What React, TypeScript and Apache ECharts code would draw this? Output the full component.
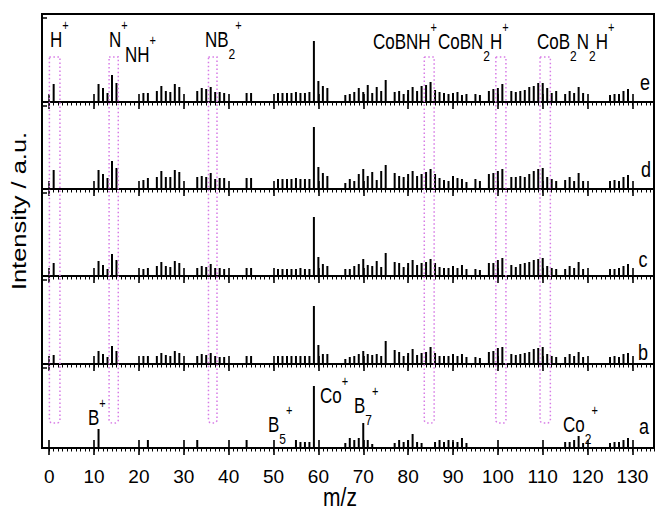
import React, { useEffect, useRef } from "react";
import * as echarts from "echarts";

// ---------- data ----------
const panelNames = ["e", "d", "c", "b", "a"];

// m/z positions of peaks shared by spectra b–e
const mzBE = [
  1,
  11, 12, 13, 14, 15,
  21, 22,
  24, 25, 26, 27, 28, 29,
  33, 34, 35, 36, 37, 38, 39,
  44, 45,
  51, 52, 53, 54, 55, 56, 57, 58,
  59, 60, 61, 62,
  66, 67, 68, 69, 70, 71, 72, 73, 74, 75,
  77, 78, 79, 80, 81, 82, 83, 84, 85, 86, 87, 88, 89, 90, 91, 92, 93,
  95, 96,
  98, 99, 100, 101,
  103, 104, 105, 106, 107, 108, 109, 110, 111, 112, 113,
  115, 116, 117, 118, 119,
  125, 126, 127, 128, 129,
];

const intensityE = [
  18,
  18, 14, 9, 27, 19,
  9, 9,
  11, 16, 11, 10, 18, 15,
  11, 14, 13, 15, 10, 10, 9,
  9, 9,
  9, 9, 9, 9, 10, 9, 9, 10,
  61, 21, 16, 14,
  7, 8, 10, 14, 10, 17, 9, 15, 11, 22,
  10, 11, 8, 12, 15, 11, 16, 17, 20, 12, 10, 9, 8, 9, 10, 7, 8,
  8, 7,
  11, 13, 14, 18,
  11, 10, 11, 12, 15, 16, 19, 19, 14, 9, 11,
  8, 11, 9, 15, 9,
  7, 8, 8, 11, 13,
];

const intensityD = [
  19,
  19, 15, 11, 28, 21,
  9, 11,
  12, 18, 12, 12, 19, 17,
  12, 13, 12, 16, 10, 11, 11,
  11, 11,
  10, 10, 10, 10, 11, 10, 10, 10,
  62, 22, 16, 13,
  6, 10, 8, 15, 20, 13, 17, 9, 18, 24,
  16, 13, 12, 15, 18, 13, 15, 17, 20, 15, 11, 9, 8, 13, 11, 10, 7,
  10, 8,
  15, 16, 18, 20,
  12, 12, 13, 12, 15, 18, 20, 21, 12, 10, 8,
  9, 12, 8, 16, 8,
  8, 9, 8, 12, 14,
];

const intensityC = [
  13,
  15, 11, 7, 22, 16,
  7, 8,
  10, 14, 10, 9, 15, 13,
  8, 10, 9, 12, 8, 8, 7,
  8, 8,
  7, 7, 7, 7, 7, 8, 7, 7,
  59, 19, 12, 10,
  7, 7, 10, 12, 17, 11, 10, 15, 9, 23,
  14, 13, 9, 13, 16, 11, 13, 14, 17, 13, 9, 8, 8, 10, 8, 11, 7,
  7, 6,
  13, 13, 16, 18,
  11, 9, 12, 13, 14, 16, 17, 18, 10, 8, 7,
  7, 10, 8, 14, 7,
  7, 7, 8, 10, 12,
];

const intensityB = [
  9,
  13, 10, 7, 18, 13,
  8, 8,
  8, 11, 9, 8, 13, 11,
  8, 10, 9, 11, 8, 7, 7,
  8, 8,
  8, 8, 8, 8, 8, 8, 8, 8,
  58, 19, 10, 10,
  5, 7, 8, 10, 13, 10, 9, 10, 8, 23,
  14, 12, 8, 11, 15, 9, 11, 12, 17, 11, 8, 8, 8, 10, 8, 10, 7,
  7, 6,
  12, 13, 16, 17,
  10, 9, 10, 11, 12, 15, 16, 17, 10, 8, 7,
  7, 10, 8, 12, 7,
  7, 8, 7, 10, 11,
];

// spectrum a (pure Co/B reference)
const mzA = [
  11, 22, 33, 44, 55, 56, 57, 58, 59,
  66, 67, 68, 69, 70, 71, 72,
  77, 78, 79, 80, 81, 82, 83,
  86, 87, 88, 89, 90, 91, 92, 93,
  115, 116, 117, 118, 119,
  125, 126, 127, 128, 129,
];
const intensityA = [
  19, 8, 8, 8, 8, 6, 6, 6, 62,
  5, 10, 8, 10, 25, 8, 4,
  5, 8, 6, 8, 14, 6, 5,
  6, 8, 6, 8, 6, 6, 10, 5,
  6, 6, 8, 12, 5,
  5, 6, 6, 8, 10,
];

const tickLabels = ["0", "10", "20", "30", "40", "50", "60", "70", "80", "90", "100", "110", "120", "130"];

// ---------- layout ----------
const FONT = "Liberation Sans, Arial, sans-serif";
const PX_PER_UNIT = 612 / 136.4;
const FRAME_LEFT = 42;
const FRAME_RIGHT = 654;
const X_MIN = 0;
const X_MAX = 134.8;
const GRID_LEFT = FRAME_LEFT + 1.6 * PX_PER_UNIT;
const GRID_WIDTH = (X_MAX - X_MIN) * PX_PER_UNIT;
const panelTops = [14, 102, 189, 276, 364];
const panelHeights = [88, 87, 87, 88, 84];
const FRAME_BOTTOM = 448;

const mzToPx = (m: number) => GRID_LEFT + (m - X_MIN) * PX_PER_UNIT;

// highlighted m/z windows (dotted boxes)
const boxRanges: [number, number][] = [
  [0.05, 2.4],
  [13.35, 15.4],
  [35.5, 37.4],
  [83.6, 85.8],
  [99.55, 101.8],
  [109.4, 111.7],
];

type Part = [string, string];
const labels: { x: number; y: number; parts: Part[] }[] = [
  { x: 50, y: 40, parts: [["m", "H"], ["sup", "+"]] },
  { x: 109, y: 40, parts: [["m", "N"], ["sup", "+"]] },
  { x: 125, y: 55, parts: [["m", "NH"], ["sup", "+"]] },
  { x: 205, y: 40, parts: [["m", "NB"], ["sub", "2"], ["sup", "+"]] },
  { x: 373, y: 42, parts: [["m", "CoBNH"], ["sup", "+"]] },
  { x: 438, y: 42, parts: [["m", "CoBN"], ["sub", "2"], ["m", "H"], ["sup", "+"]] },
  { x: 537, y: 42, parts: [["m", "CoB"], ["sub", "2"], ["m", "N"], ["sub", "2"], ["m", "H"], ["sup", "+"]] },
  { x: 88, y: 418, parts: [["m", "B"], ["sup", "+"]] },
  { x: 268, y: 425, parts: [["m", "B"], ["sub", "5"], ["sup", "+"]] },
  { x: 320, y: 396, parts: [["m", "Co"], ["sup", "+"]] },
  { x: 354, y: 406, parts: [["m", "B"], ["sub", "7"], ["sup", "+"]] },
  { x: 563, y: 425, parts: [["m", "Co"], ["sub", "2"], ["sup", "+"]] },
];

const letterPos = [
  [645, 82],
  [646, 169],
  [643, 259],
  [643, 352],
  [644, 426],
];

export default function App() {
  const ref = useRef<HTMLDivElement>(null);

  useEffect(() => {
    document.body.style.margin = "0";
    if (!ref.current) return;
    const chart = echarts.init(ref.current, undefined, { renderer: "svg" });

    const seriesData = [
      mzBE.map((m, i) => [m, intensityE[i]]),
      mzBE.map((m, i) => [m, intensityD[i]]),
      mzBE.map((m, i) => [m, intensityC[i]]),
      mzBE.map((m, i) => [m, intensityB[i]]),
      mzA.map((m, i) => [m, intensityA[i]]),
    ];

    const grids = panelTops.map((t, i) => ({
      left: GRID_LEFT,
      width: GRID_WIDTH,
      top: t,
      height: panelHeights[i],
      show: false,
    }));

    const xAxes: any[] = [];
    panelNames.forEach((_, i) => {
      const base = {
        type: "value",
        gridIndex: i,
        min: X_MIN,
        max: X_MAX,
        position: "bottom",
        splitLine: { show: false },
        axisLine: { show: false, onZero: false },
      };
      // major ticks pointing down + tick labels
      xAxes.push({
        ...base,
        interval: 10,
        axisTick: {
          show: true,
          inside: false,
          length: 7,
          lineStyle: { color: "#000", width: 1.6 },
        },
        axisLabel: {
          show: i === 4,
          fontSize: 19,
          fontFamily: FONT,
          color: "#000",
          margin: 19,
          showMaxLabel: false,
          formatter: (v: number) => {
            const s = String(v);
            return tickLabels.indexOf(s) >= 0 ? s : "";
          },
        },
      });
      // major ticks pointing up into the panel
      xAxes.push({
        ...base,
        interval: 10,
        axisTick: {
          show: true,
          inside: true,
          length: 8,
          lineStyle: { color: "#000", width: 1.6 },
        },
        axisLabel: { show: false },
      });
      // minor ticks every 1 m/z
      xAxes.push({
        ...base,
        interval: 1,
        axisTick: {
          show: true,
          inside: false,
          length: 3.5,
          lineStyle: { color: "#000", width: 1 },
        },
        axisLabel: { show: false },
      });
    });

    const yAxes = panelNames.map((_, i) => ({
      type: "value",
      gridIndex: i,
      min: 0,
      max: panelHeights[i],
      interval: panelHeights[i] - 4,
      position: "left",
      offset: GRID_LEFT - FRAME_LEFT,
      splitLine: { show: false },
      axisLine: { show: false, onZero: false },
      axisLabel: { show: false },
      axisTick: {
        show: true,
        inside: true,
        length: 5,
        lineStyle: { color: "#000", width: 1.5 },
      },
    }));

    const series = seriesData.map((data, i) => ({
      type: "bar",
      name: panelNames[i],
      xAxisIndex: i * 3,
      yAxisIndex: i,
      data,
      barWidth: 2,
      silent: true,
      itemStyle: { color: "#000" },
    }));

    const rich = {
      m: { fontSize: 17, fontFamily: FONT, fill: "#000", lineHeight: 34 },
      sup: { fontSize: 11, fontFamily: FONT, fill: "#000", lineHeight: 16, verticalAlign: "top" },
      sub: { fontSize: 12, fontFamily: FONT, fill: "#000", lineHeight: 10, verticalAlign: "bottom" },
    };

    const graphics: any[] = [];

    // outer frame and panel separators
    graphics.push({
      type: "rect",
      silent: true,
      z: 5,
      shape: { x: FRAME_LEFT, y: panelTops[0], width: FRAME_RIGHT - FRAME_LEFT, height: FRAME_BOTTOM - panelTops[0] },
      style: { fill: "none", stroke: "#000", lineWidth: 2 },
    });
    panelTops.slice(1).forEach((y) => {
      graphics.push({
        type: "line",
        silent: true,
        z: 5,
        shape: { x1: FRAME_LEFT, y1: y, x2: FRAME_RIGHT, y2: y },
        style: { stroke: "#000", lineWidth: 2 },
      });
    });

    const boxTop = 57;
    const boxBottom = 423;
    boxRanges.forEach(([a, b]) => {
      const x0 = mzToPx(a);
      const x1 = mzToPx(b);
      graphics.push({
        type: "rect",
        silent: true,
        z: 10,
        shape: { x: x0, y: boxTop, width: x1 - x0, height: boxBottom - boxTop, r: [0, 0, 3, 3] },
        style: { fill: "none", stroke: "#d77be6", lineWidth: 1.5, lineDash: [1.5, 2.5] },
      });
    });

    labels.forEach((l) => {
      graphics.push({
        type: "text",
        x: l.x,
        y: l.y,
        scaleY: 1.25,
        z: 20,
        style: {
          text: l.parts.map(([s, t]) => `{${s}|${t}}`).join(""),
          rich,
          align: "left",
          verticalAlign: "middle",
        },
      });
    });

    panelNames.forEach((n, i) => {
      graphics.push({
        type: "text",
        x: letterPos[i][0],
        y: letterPos[i][1],
        scaleY: 1.25,
        z: 20,
        style: {
          text: n,
          fontSize: 18,
          fontFamily: FONT,
          fill: "#000",
          align: "center",
          verticalAlign: "middle",
        },
      });
    });

    graphics.push({
      type: "text",
      x: 19,
      y: 211,
      rotation: Math.PI / 2,
      scaleX: 1.27,
      z: 20,
      style: {
        text: "Intensity / a.u.",
        fontSize: 20,
        fontFamily: FONT,
        fill: "#000",
        align: "center",
        verticalAlign: "middle",
      },
    });
    graphics.push({
      type: "text",
      x: 340,
      y: 497,
      scaleY: 1.2,
      z: 20,
      style: {
        text: "m/z",
        fontSize: 21,
        fontFamily: FONT,
        fill: "#000",
        align: "center",
        verticalAlign: "middle",
      },
    });

    chart.setOption({
      animation: false,
      backgroundColor: "#fff",
      grid: grids,
      xAxis: xAxes,
      yAxis: yAxes,
      series,
      graphic: graphics,
    });

    return () => chart.dispose();
  }, []);

  return <div ref={ref} style={{ width: 658, height: 510 }} />;
}
